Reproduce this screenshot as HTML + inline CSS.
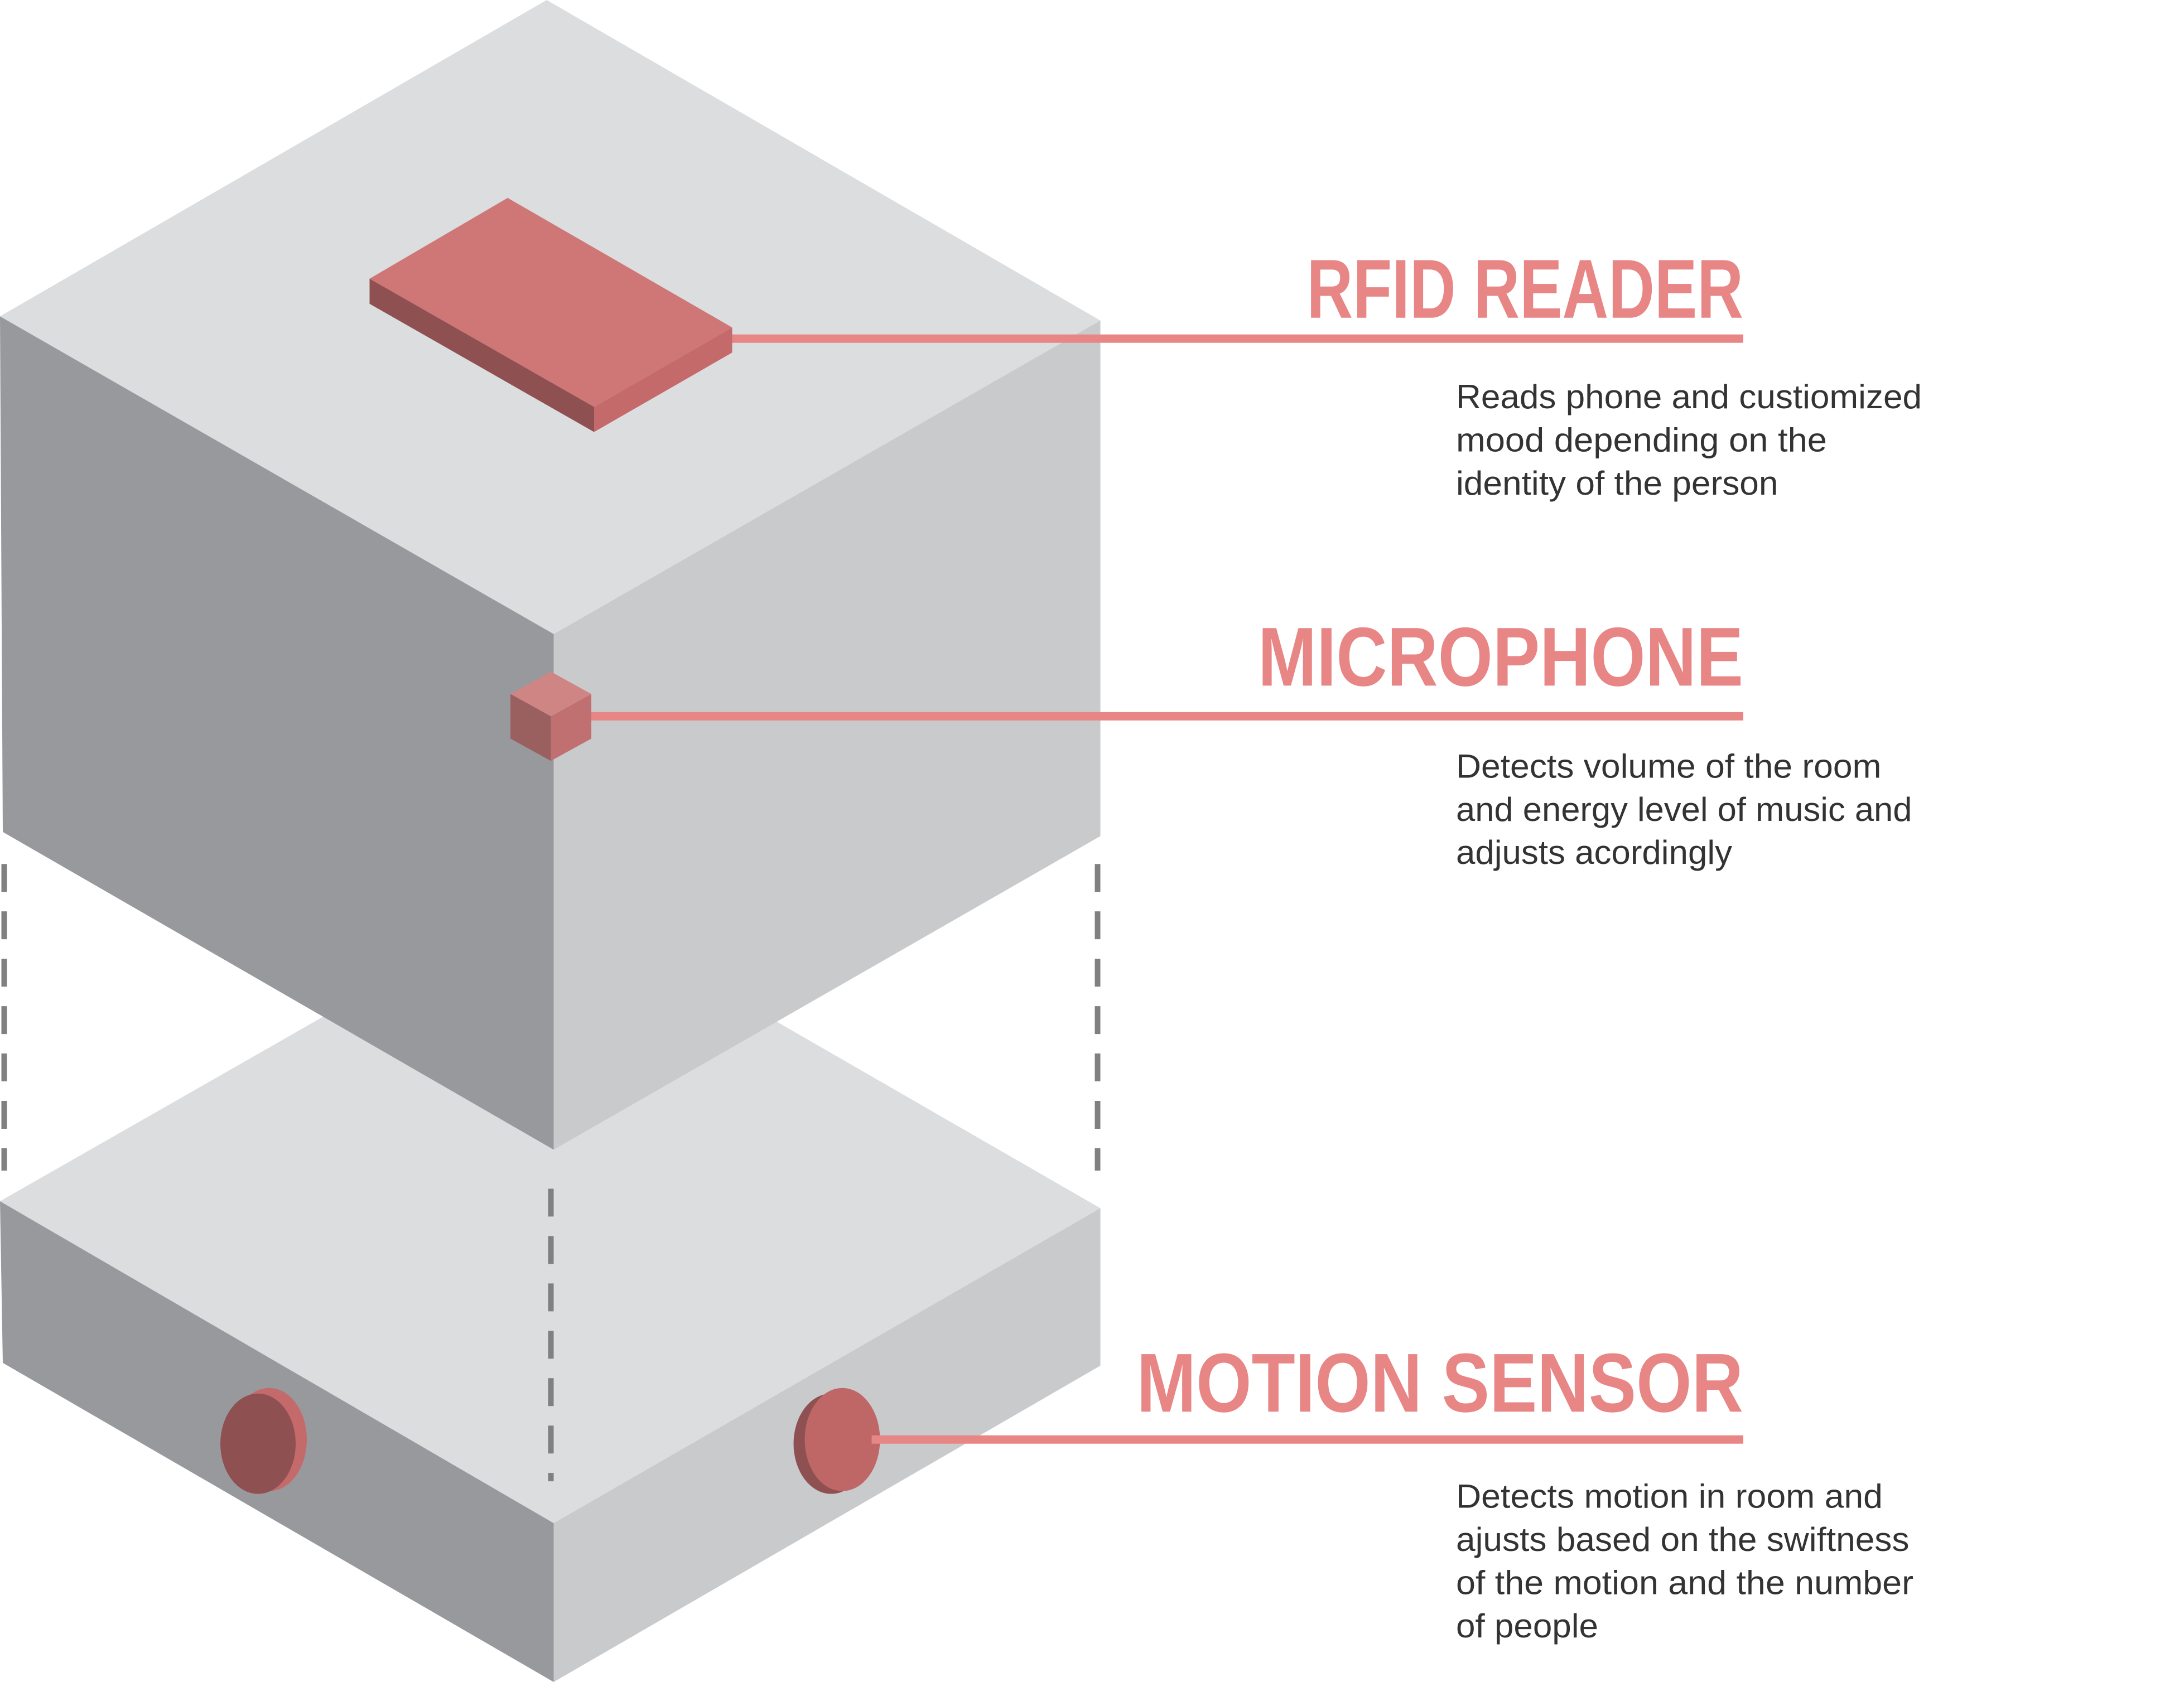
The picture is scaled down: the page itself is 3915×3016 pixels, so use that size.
<!DOCTYPE html>
<html><head><meta charset="utf-8"><style>
html,body{margin:0;padding:0;background:#fff;}
svg{display:block;}
.t{font-family:"Liberation Sans",sans-serif;font-weight:bold;fill:#e88585;font-size:60px;}
.b{font-family:"Liberation Sans",sans-serif;fill:#333;font-size:24px;}
</style></head><body>
<svg width="3915" height="3016" viewBox="0 0 1566 1207" preserveAspectRatio="none" xmlns="http://www.w3.org/2000/svg">
<g>
<polygon points="0,862 392,638 789,867 397,1093" fill="#dcdddf"/>
<polygon points="0,862 397,1093 397,1207 2,978" fill="#98999d"/>
<polygon points="397,1093 789,867 789,980 397,1207" fill="#c9cacc"/>
</g>
<g>
<polygon points="392,0 789,230 397,455 0,227" fill="#dcdddf"/>
<polygon points="0,227 397,455 397,825 2,597" fill="#98999d"/>
<polygon points="397,455 789,230 789,600 397,825" fill="#c9cacc"/>
</g>
<g stroke="#808080" stroke-width="4" stroke-dasharray="20,14">
<line x1="3" y1="620" x2="3" y2="840"/>
<line x1="787" y1="620" x2="787" y2="840"/>
<line x1="395" y1="853" x2="395" y2="1063"/>
</g>
<g>
<polygon points="265,200 364,142 525,235 426,292" fill="#cf7676"/>
<polygon points="265,200 426,292 426,310 265,218" fill="#8f5052"/>
<polygon points="426,292 525,235 525,253 426,310" fill="#c46a6a"/>
</g>
<g>
<polygon points="366,498 395,482 424,498 395,514" fill="#d08585"/>
<polygon points="366,498 395,514 395,546 366,530" fill="#99605f"/>
<polygon points="395,514 424,498 424,530 395,546" fill="#c07070"/>
</g>
<g>
<ellipse cx="193" cy="1033" rx="27" ry="37" fill="#c46a6a"/>
<ellipse cx="185" cy="1036" rx="27" ry="36" fill="#8f5052"/>
</g>
<g>
<ellipse cx="596" cy="1036" rx="27" ry="36" fill="#8f5052"/>
<ellipse cx="604" cy="1033" rx="27" ry="37" fill="#bf6767"/>
</g>
<g fill="#e88585">
<rect x="525" y="240" width="725" height="6"/>
<rect x="424" y="511" width="826" height="6"/>
<rect x="625" y="1030" width="625" height="6"/>
</g>
<text class="t" x="937" y="228" textLength="313" lengthAdjust="spacingAndGlyphs">RFID READER</text>
<text class="t" x="902" y="492" textLength="348" lengthAdjust="spacingAndGlyphs">MICROPHONE</text>
<text class="t" x="815" y="1013" textLength="435" lengthAdjust="spacingAndGlyphs">MOTION SENSOR</text>
<g>
<text class="b" x="1044" y="293" textLength="334" lengthAdjust="spacingAndGlyphs">Reads phone and custiomized</text>
<text class="b" x="1044" y="324" textLength="266" lengthAdjust="spacingAndGlyphs">mood depending on the</text>
<text class="b" x="1044" y="355" textLength="231" lengthAdjust="spacingAndGlyphs">identity of the person</text>
</g>
<g>
<text class="b" x="1044" y="558" textLength="305" lengthAdjust="spacingAndGlyphs">Detects volume of the room</text>
<text class="b" x="1044" y="589" textLength="327" lengthAdjust="spacingAndGlyphs">and energy level of music and</text>
<text class="b" x="1044" y="620" textLength="198" lengthAdjust="spacingAndGlyphs">adjusts acordingly</text>
</g>
<g>
<text class="b" x="1044" y="1082" textLength="306" lengthAdjust="spacingAndGlyphs">Detects motion in room and</text>
<text class="b" x="1044" y="1113" textLength="325" lengthAdjust="spacingAndGlyphs">ajusts based on the swiftness</text>
<text class="b" x="1044" y="1144" textLength="328" lengthAdjust="spacingAndGlyphs">of the motion and the number</text>
<text class="b" x="1044" y="1175" textLength="102" lengthAdjust="spacingAndGlyphs">of people</text>
</g>
</svg>
</body></html>
